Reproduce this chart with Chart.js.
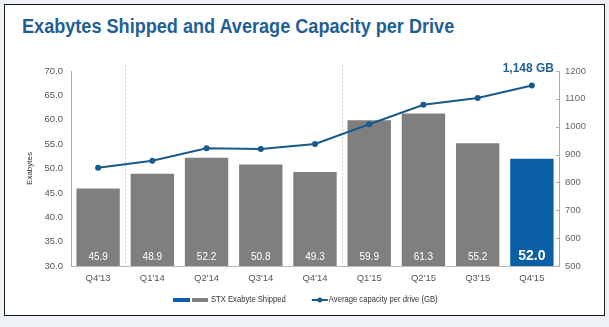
<!DOCTYPE html>
<html>
<head>
<meta charset="utf-8">
<script src="https://cdn.jsdelivr.net/npm/chart.js@4"></script>
<style>
  html, body { margin: 0; padding: 0; background: #eef2f7; }
  #wrap { position: relative; width: 609px; height: 327px; overflow: hidden; }
  #frame {
    position: absolute; left: 4px; top: 4px; width: 599px; height: 310px;
    border: 1.5px solid #1a1a1a; background: #fff;
  }
  #title {
    position: absolute; left: 22px; top: 15px;
    font: bold 20px "Liberation Sans", Arial, sans-serif;
    color: #1f5f96; white-space: nowrap;
    transform: scaleX(0.905); transform-origin: left top;
  }
  canvas { position: absolute; left: 0; top: 0; }
</style>
</head>
<body>
<div id="wrap">
  <div id="frame"></div>
  <div id="title">Exabytes Shipped and Average Capacity per Drive</div>
  <canvas id="chart" width="609" height="327"></canvas>
</div>
<script>
// ===== DATA =====
const categories = ["Q4'13", "Q1'14", "Q2'14", "Q3'14", "Q4'14", "Q1'15", "Q2'15", "Q3'15", "Q4'15"];
const exabytes = [45.9, 48.9, 52.2, 50.8, 49.3, 59.9, 61.3, 55.2, 52.0];
const avgCapacity = [853, 878, 923, 920, 938, 1009, 1079, 1103, 1148];
const yearBreaks = [1, 5]; // dashed line before these category indexes
const callout = '1,148 GB';

const GRAY = '#7f7f7f';
const BLUE = '#0a5fa5';
const LINE = '#1a5a8a';
const FONT = '"Liberation Sans", Arial, sans-serif';

const barColors = exabytes.map((v, i) => i === exabytes.length - 1 ? BLUE : GRAY);

// ===== PLUGINS =====
const yearLines = {
    id: 'yearLines',
    beforeDatasetsDraw(chart) {
        const { ctx, chartArea, scales } = chart;
        ctx.save();
        ctx.strokeStyle = '#cfcfcf';
        ctx.lineWidth = 1;
        ctx.setLineDash([2, 2]);
        yearBreaks.forEach(i => {
            const x = Math.round((scales.x.getPixelForValue(i - 1) + scales.x.getPixelForValue(i)) / 2) + 0.5;
            ctx.beginPath();
            ctx.moveTo(x, chartArea.top - 6);
            ctx.lineTo(x, chartArea.bottom);
            ctx.stroke();
        });
        // small inward ticks on the right axis
        ctx.setLineDash([]);
        ctx.strokeStyle = '#aaa';
        const r = scales.y1;
        r.ticks.forEach(t => {
            const y = Math.round(r.getPixelForValue(t.value)) + 0.5;
            ctx.beginPath();
            ctx.moveTo(r.left - 3, y);
            ctx.lineTo(r.left, y);
            ctx.stroke();
        });
        ctx.restore();
    }
};

const barLabels = {
    id: 'barLabels',
    afterDatasetsDraw(chart) {
        const { ctx, chartArea } = chart;
        const meta = chart.getDatasetMeta(0);
        ctx.save();
        ctx.fillStyle = '#fff';
        ctx.textAlign = 'center';
        ctx.textBaseline = 'middle';
        meta.data.forEach((bar, i) => {
            const last = i === exabytes.length - 1;
            ctx.font = last ? 'bold 14px ' + FONT : '10px ' + FONT;
            ctx.fillText(exabytes[i].toFixed(1), bar.x, chartArea.bottom - (last ? 10 : 9));
        });
        // callout for latest capacity
        const lineMeta = chart.getDatasetMeta(1);
        const p = lineMeta.data[lineMeta.data.length - 1];
        ctx.font = 'bold 13px ' + FONT;
        ctx.fillStyle = '#1f5f96';
        ctx.textAlign = 'right';
        ctx.translate(p.x + 22, p.y - 17);
        ctx.scale(0.92, 1);
        ctx.fillText(callout, 0, 0);
        ctx.restore();
    }
};

const customLegend = {
    id: 'customLegend',
    afterDraw(chart) {
        const { ctx } = chart;
        const y = 300;
        const sx = 0.85;
        ctx.save();
        ctx.font = '9px ' + FONT;
        ctx.textBaseline = 'middle';
        const t1 = 'STX Exabyte Shipped';
        const t2 = 'Average capacity per drive (GB)';
        const w1 = ctx.measureText(t1).width * sx;
        let x = 173;
        ctx.fillStyle = BLUE;
        ctx.fillRect(x, y - 2, 17, 4);
        ctx.fillStyle = GRAY;
        ctx.fillRect(x + 19, y - 2, 16, 4);
        x += 38;
        ctx.fillStyle = '#333';
        ctx.save();
        ctx.translate(x, y);
        ctx.scale(sx, 1);
        ctx.fillText(t1, 0, 0);
        ctx.restore();
        x += w1 + 26;
        ctx.strokeStyle = LINE;
        ctx.lineWidth = 2;
        ctx.beginPath();
        ctx.moveTo(x, y);
        ctx.lineTo(x + 16, y);
        ctx.stroke();
        ctx.fillStyle = LINE;
        ctx.beginPath();
        ctx.arc(x + 8, y, 2.5, 0, Math.PI * 2);
        ctx.fill();
        ctx.fillStyle = '#333';
        ctx.translate(x + 17, y);
        ctx.scale(sx, 1);
        ctx.fillText(t2, 0, 0);
        ctx.restore();
    }
};

// ===== CHART =====
new Chart(document.getElementById('chart'), {
    type: 'bar',
    data: {
        labels: categories,
        datasets: [
            {
                label: 'STX Exabyte Shipped',
                data: exabytes,
                backgroundColor: barColors,
                barPercentage: 0.8,
                categoryPercentage: 1.0,
                yAxisID: 'y',
                order: 2
            },
            {
                type: 'line',
                label: 'Average capacity per drive (GB)',
                data: avgCapacity,
                borderColor: LINE,
                backgroundColor: LINE,
                borderWidth: 2,
                pointRadius: 3,
                pointBackgroundColor: LINE,
                pointBorderWidth: 0,
                tension: 0,
                yAxisID: 'y1',
                order: 1
            }
        ]
    },
    options: {
        responsive: false,
        animation: false,
        layout: { padding: { left: 0, right: 0, top: 71, bottom: 0 } },
        plugins: {
            legend: { display: false },
            tooltip: { enabled: false }
        },
        scales: {
            x: {
                grid: { display: false, drawTicks: false },
                border: { color: '#bbb' },
                ticks: { color: '#555', font: { size: 9.5, family: FONT }, padding: 7 },
                afterFit: s => { s.height = 61; }
            },
            y: {
                position: 'left',
                min: 30, max: 70,
                grid: { display: false, drawTicks: false },
                border: { color: '#aaa' },
                ticks: {
                    stepSize: 5,
                    color: '#555',
                    padding: 8,
                    font: { size: 9.5, family: FONT },
                    callback: v => v.toFixed(1)
                },
                title: {
                    display: true,
                    text: 'Exabytes',
                    color: '#333',
                    font: { size: 8, family: FONT },
                    padding: { top: 25, bottom: 0 }
                },
                afterFit: s => { s.width = 71; }
            },
            y1: {
                position: 'right',
                min: 500, max: 1200,
                grid: { drawOnChartArea: false, drawTicks: false },
                border: { color: '#aaa' },
                ticks: {
                    stepSize: 100,
                    color: '#666',
                    padding: 6,
                    font: { size: 9.5, family: FONT },
                    callback: v => String(v)
                },
                afterFit: s => { s.width = 50; }
            }
        }
    },
    plugins: [yearLines, barLabels, customLegend]
});
</script>
</body>
</html>
